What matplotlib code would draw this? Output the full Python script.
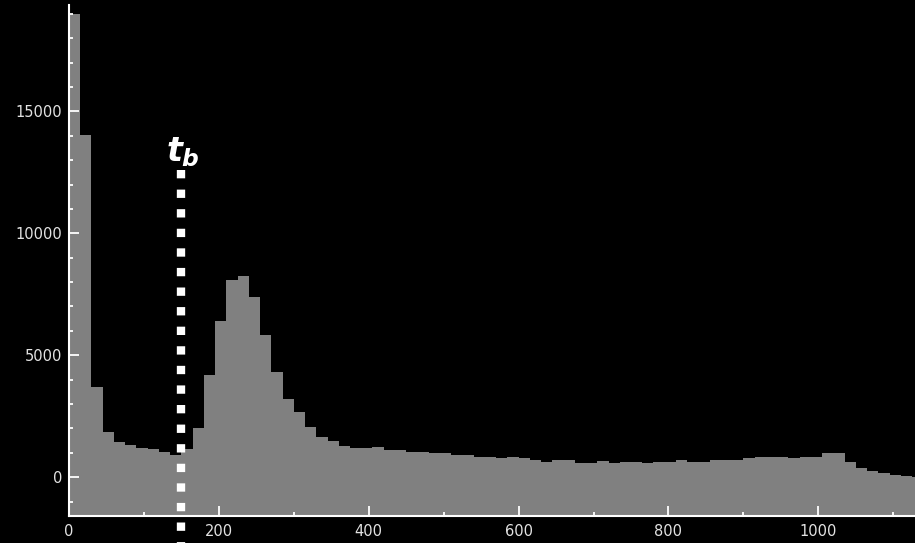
import matplotlib
matplotlib.use("Agg")
import matplotlib.pyplot as plt
import numpy as np
from matplotlib.ticker import MultipleLocator

# histogram counts, 15-wide bins starting at 0
bin_width = 15
counts = [
    19000, 14050, 3710, 1870, 1450, 1324, 1200, 1160, 1050, 914,
    1150, 2010, 4190, 6400, 8090, 8250, 7400, 5840, 4330, 3210,
    2670, 2050, 1640, 1500, 1300, 1190, 1190, 1240, 1110, 1100,
    1040, 1040, 1000, 990, 925, 925, 845, 845, 780, 845,
    780, 710, 640, 710, 710, 600, 600, 655, 590, 640,
    640, 590, 640, 640, 700, 640, 640, 700, 700, 700,
    780, 845, 845, 845, 780, 845, 845, 985, 985, 640,
    370, 240, 165, 95, 30, 25,
]
t_b = 150
t_b_top = 12600
t_b_bottom = -2700

edges = np.arange(len(counts) + 1) * bin_width
y_lo, y_hi = -1590, 19360

fg = "#e2e2e2"
plt.rcParams["font.family"] = ["DejaVu Sans"]
plt.rcParams["mathtext.fontset"] = "custom"
plt.rcParams["mathtext.it"] = "DejaVu Sans:italic:bold"
plt.rcParams["mathtext.rm"] = "DejaVu Sans:bold"

fig = plt.figure(figsize=(9.15, 5.43), dpi=100, facecolor="black")
ax = fig.add_axes([69 / 915, 27 / 543, 846 / 915, 511 / 543], facecolor="black")

ax.stairs(counts, edges, baseline=y_lo, fill=True, color="#808080", lw=0)

ax.plot([t_b, t_b], [t_b_top, t_b_bottom], color="white", lw=6,
        linestyle=(0, (1.0, 1.35)), dash_capstyle="butt", clip_on=False, zorder=5)
ax.text(t_b + 2, 12950, r"$t_b$", color="white", fontsize=24, ha="center", va="baseline")

ax.set_xlim(0, 1129)
ax.set_ylim(y_lo, y_hi)
ax.xaxis.set_major_locator(MultipleLocator(200))
ax.xaxis.set_minor_locator(MultipleLocator(100))
ax.yaxis.set_major_locator(MultipleLocator(5000))
ax.yaxis.set_minor_locator(MultipleLocator(1000))

for side in ("top", "right"):
    ax.spines[side].set_visible(False)
for side in ("left", "bottom"):
    ax.spines[side].set_color("white")
    ax.spines[side].set_linewidth(1.5)

ax.tick_params(which="both", direction="in", colors="white", labelcolor=fg, labelsize=10.5)
ax.tick_params(which="major", length=7.5, width=1.3)
ax.tick_params(which="minor", length=3, width=1.3)
ax.tick_params(axis="y", pad=5)
ax.tick_params(axis="x", pad=6)

fig.savefig("out.png", dpi=100, facecolor="black")
